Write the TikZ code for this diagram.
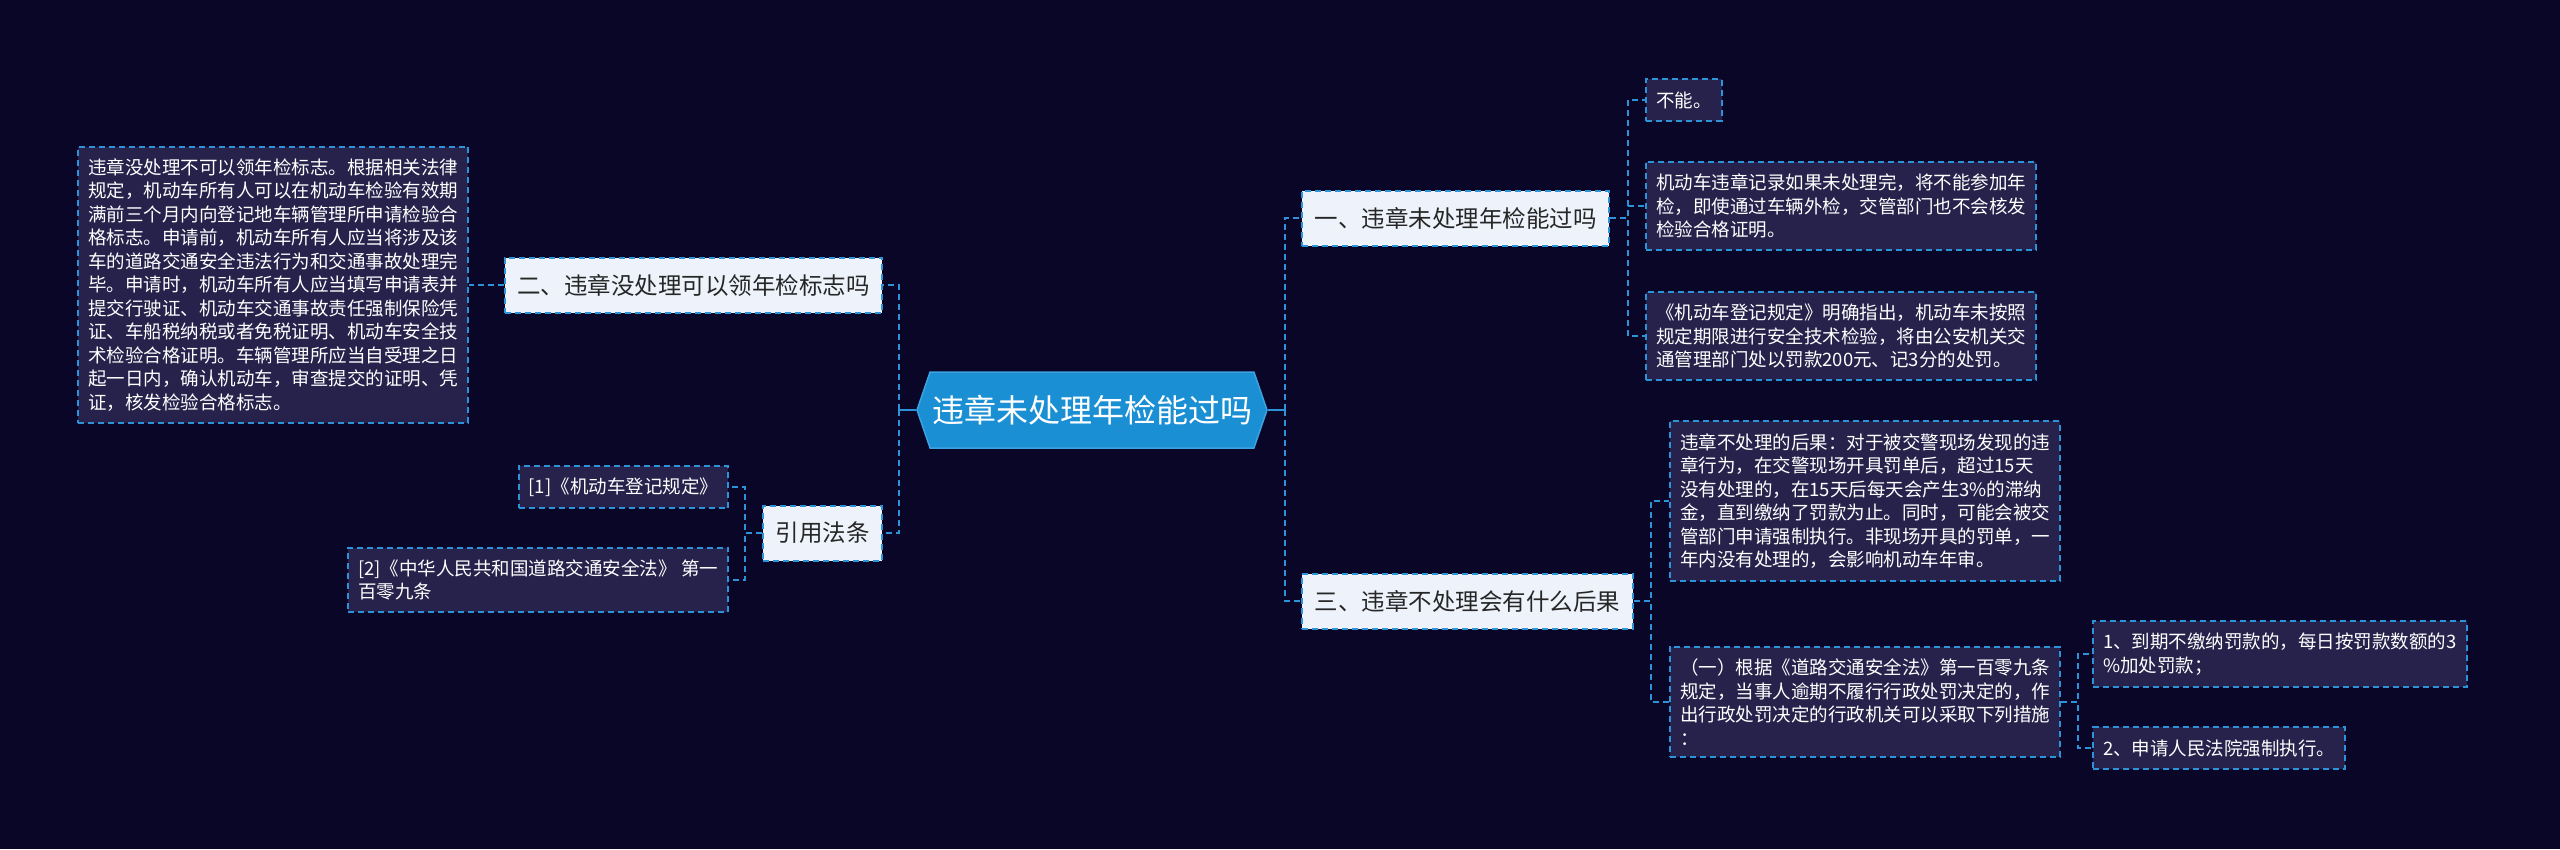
\documentclass[tikz,border=0pt]{standalone}
\usepackage{fontspec}
\setmainfont{Noto Sans CJK SC}
\usetikzlibrary{shapes.symbols}
\definecolor{bgnavy}{HTML}{0A0628}
\definecolor{rootblue}{HTML}{1B8FD3}
\definecolor{rootrim}{HTML}{3DA2E2}
\definecolor{wirebl}{HTML}{2C93D8}
\definecolor{paper}{HTML}{EEF3FB}
\definecolor{ink}{HTML}{262626}
\definecolor{slate}{HTML}{26224B}
\tikzset{
  mm/.style={x=1pt,y=-1pt,line width=2pt},
  rootnode/.style={shape=signal,signal to=west and east,signal pointer angle=142,fill=rootblue,draw=rootrim,line width=1.5pt,text=white,font=\fontsize{32}{38}\selectfont,minimum width=350pt,minimum height=76pt,inner xsep=0pt},
  topic/.style={fill=paper,draw=wirebl,dash pattern=on 6pt off 4pt,text=ink,font=\fontsize{23.5}{28}\selectfont,minimum height=55pt,inner xsep=12.5pt,inner ysep=0pt},
  leaf/.style={fill=slate,draw=wirebl,dash pattern=on 6pt off 4pt,text=white,font=\fontsize{18.5}{23.5}\selectfont,align=left,inner xsep=10pt,inner ysep=12pt},
  link/.style={draw=wirebl,dash pattern=on 6pt off 4pt},
  stem/.style={draw=wirebl}
}
\begin{document}
\begin{tikzpicture}[mm]
  \fill[bgnavy] (0,0) rectangle (2560,849);
  \useasboundingbox (0,0) rectangle (2560,849);
  \node[rootnode] (root) at (1092,410) {违章未处理年检能过吗};
  \node[topic,anchor=west] (n1) at (1301,218) {一、违章未处理年检能过吗};
  \node[topic,anchor=west] (n3) at (1301,601) {三、违章不处理会有什么后果};
  \node[topic,anchor=east] (n2) at (883,285) {二、违章没处理可以领年检标志吗};
  \node[topic,anchor=east] (n4) at (883,533) {引用法条};
  \node[leaf,anchor=west] (n1a) at (1645,100) {不能。};
  \node[leaf,anchor=west] (n1b) at (1645,206) {机动车违章记录如果未处理完，将不能参加年\\检，即使通过车辆外检，交管部门也不会核发\\检验合格证明。};
  \node[leaf,anchor=west] (n1c) at (1645,336) {《机动车登记规定》明确指出，机动车未按照\\规定期限进行安全技术检验，将由公安机关交\\通管理部门处以罚款200元、记3分的处罚。};
  \node[leaf,anchor=west] (n3a) at (1669,501) {违章不处理的后果：对于被交警现场发现的违\\章行为，在交警现场开具罚单后，超过15天\\没有处理的，在15天后每天会产生3\%的滞纳\\金，直到缴纳了罚款为止。同时，可能会被交\\管部门申请强制执行。非现场开具的罚单，一\\年内没有处理的，会影响机动车年审。};
  \node[leaf,anchor=west] (n3b) at (1669,702) {（一）根据《道路交通安全法》第一百零九条\\规定，当事人逾期不履行行政处罚决定的，作\\出行政处罚决定的行政机关可以采取下列措施\\：};
  \node[leaf,anchor=west] (n3b1) at (2092,654) {1、到期不缴纳罚款的，每日按罚款数额的3\\\%加处罚款；};
  \node[leaf,anchor=west] (n3b2) at (2092,748) {2、申请人民法院强制执行。};
  \node[leaf,anchor=east] (n2a) at (469,285) {违章没处理不可以领年检标志。根据相关法律\\规定，机动车所有人可以在机动车检验有效期\\满前三个月内向登记地车辆管理所申请检验合\\格标志。申请前，机动车所有人应当将涉及该\\车的道路交通安全违法行为和交通事故处理完\\毕。申请时，机动车所有人应当填写申请表并\\提交行驶证、机动车交通事故责任强制保险凭\\证、车船税纳税或者免税证明、机动车安全技\\术检验合格证明。车辆管理所应当自受理之日\\起一日内，确认机动车，审查提交的证明、凭\\证，核发检验合格标志。};
  \node[leaf,anchor=east] (n4a) at (729,487) {[1]《机动车登记规定》};
  \node[leaf,anchor=east] (n4b) at (729,580) {[2]《中华人民共和国道路交通安全法》 第一\\百零九条};
  \draw[stem] (root.west) -- ++(-17,0) coordinate (rl);
  \draw[stem] (root.east) -- ++(17,0) coordinate (rr);
  \foreach \c in {n2,n4} \draw[link] (rl) |- (\c.east);
  \foreach \c in {n1,n3} \draw[link] (rr) |- (\c.west);
  \foreach \c in {n1a,n1b,n1c} \draw[link] (n1.east) -- ++(18,0) |- (\c.west);
  \foreach \c in {n3a,n3b} \draw[link] (n3.east) -- ++(17,0) |- (\c.west);
  \foreach \c in {n3b1,n3b2} \draw[link] (n3b.east) -- ++(17,0) |- (\c.west);
  \draw[link] (n2.west) -- (n2a.east);
  \foreach \c in {n4a,n4b} \draw[link] (n4.west) -- ++(-17,0) |- (\c.east);
\end{tikzpicture}
\end{document}
